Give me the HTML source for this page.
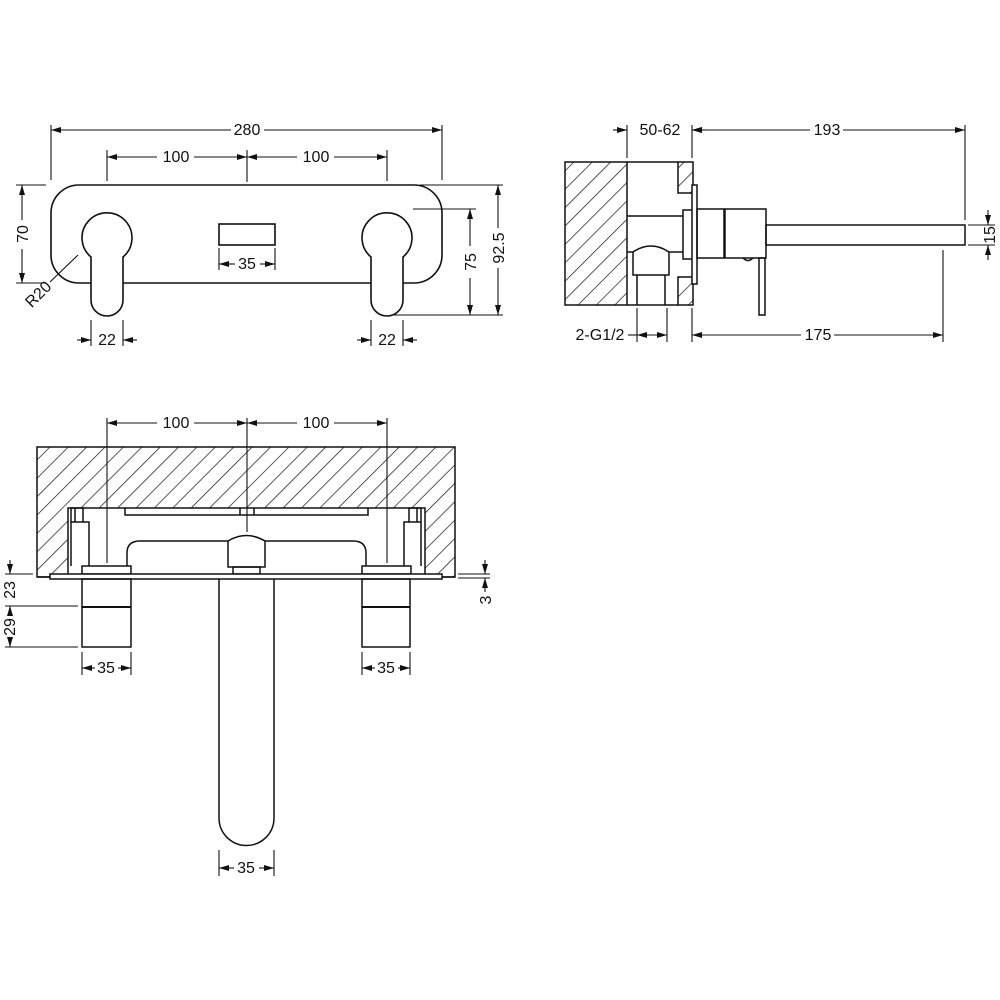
<!DOCTYPE html>
<html><head><meta charset="utf-8"><style>
html,body{margin:0;padding:0;background:#fff;}
svg{display:block}
text{font-family:"Liberation Sans",sans-serif;font-size:16px;fill:#111;}
</style></head><body>
<svg width="1000" height="1000" viewBox="0 0 1000 1000" xmlns="http://www.w3.org/2000/svg">
<defs>
<pattern id="h" patternUnits="userSpaceOnUse" width="13" height="13" patternTransform="rotate(45)">
<rect width="13" height="13" fill="#fff"/><line x1="0" y1="0" x2="0" y2="13" stroke="#111" stroke-width="1.4"/>
</pattern>
<marker id="a" viewBox="0 0 10 6" refX="10" refY="3" markerWidth="10" markerHeight="6" orient="auto-start-reverse" markerUnits="userSpaceOnUse">
<path d="M0,0 L10,3 L0,6 z" fill="#111"/></marker>
</defs>
<g fill="none" stroke="#111" stroke-width="1.6">
<rect x="51" y="185" width="391" height="98" rx="28"/>
<path d="M91,257 A25,25 0 1 1 123,257 L123,300 A16,16 0 0 1 91,300 Z" fill="#fff"/>
<path d="M371,257 A25,25 0 1 1 403,257 L403,300 A16,16 0 0 1 371,300 Z" fill="#fff"/>
<rect x="219" y="224" width="56" height="21"/>
</g>
<g fill="none" stroke="#111" stroke-width="1.1">
<line x1="51" y1="125" x2="51" y2="180"/><line x1="442" y1="125" x2="442" y2="180"/>
<line x1="107" y1="150" x2="107" y2="181"/><line x1="247" y1="150" x2="247" y2="182"/><line x1="387" y1="150" x2="387" y2="181"/>
<line x1="16" y1="185" x2="46" y2="185"/><line x1="16" y1="283" x2="46" y2="283"/>
<line x1="219" y1="248" x2="219" y2="270"/><line x1="275" y1="248" x2="275" y2="270"/>
<line x1="91" y1="320" x2="91" y2="346"/><line x1="123" y1="320" x2="123" y2="346"/>
<line x1="371" y1="320" x2="371" y2="346"/><line x1="403" y1="320" x2="403" y2="346"/>
<line x1="413" y1="209" x2="476" y2="209"/><line x1="392" y1="315" x2="503" y2="315"/>
<line x1="420" y1="185" x2="503" y2="185"/>
<line x1="78" y1="255" x2="50" y2="282"/>
<line x1="51" y1="130" x2="231" y2="130" marker-start="url(#a)"/><line x1="264" y1="130" x2="442" y2="130" marker-end="url(#a)"/>
<line x1="107" y1="157" x2="157" y2="157" marker-start="url(#a)"/><line x1="194" y1="157" x2="247" y2="157" marker-end="url(#a)"/>
<line x1="247" y1="157" x2="297" y2="157" marker-start="url(#a)"/><line x1="334" y1="157" x2="387" y2="157" marker-end="url(#a)"/>
<line x1="22" y1="185" x2="22" y2="220" marker-start="url(#a)"/><line x1="22" y1="249" x2="22" y2="283" marker-end="url(#a)"/>
<line x1="219" y1="264" x2="235" y2="264" marker-start="url(#a)"/><line x1="260" y1="264" x2="275" y2="264" marker-end="url(#a)"/>
<line x1="77" y1="340" x2="91" y2="340" marker-end="url(#a)"/><line x1="137" y1="340" x2="123" y2="340" marker-end="url(#a)"/>
<line x1="357" y1="340" x2="371" y2="340" marker-end="url(#a)"/><line x1="417" y1="340" x2="403" y2="340" marker-end="url(#a)"/>
<line x1="470" y1="209" x2="470" y2="246" marker-start="url(#a)"/><line x1="470" y1="278" x2="470" y2="315" marker-end="url(#a)"/>
<line x1="498" y1="185" x2="498" y2="228" marker-start="url(#a)"/><line x1="498" y1="268" x2="498" y2="315" marker-end="url(#a)"/>
</g>
<text x="247" y="135" text-anchor="middle">280</text>
<text x="176" y="162" text-anchor="middle">100</text><text x="316" y="162" text-anchor="middle">100</text>
<text x="247" y="269" text-anchor="middle">35</text>
<text x="107" y="345" text-anchor="middle">22</text><text x="387" y="345" text-anchor="middle">22</text>
<text transform="translate(28,234) rotate(-90)" text-anchor="middle">70</text>
<text transform="translate(476,262) rotate(-90)" text-anchor="middle">75</text>
<text transform="translate(504,248) rotate(-90)" text-anchor="middle">92.5</text>
<text transform="translate(42,298) rotate(-45)" text-anchor="middle">R20</text>

<g fill="none" stroke="#111" stroke-width="1.5">
<rect x="565" y="162" width="62" height="143" fill="url(#h)"/>
<path d="M678,162 L693,162 L693,193 L678,193 Z" fill="url(#h)"/>
<path d="M678,277 L693,277 L693,305 L678,305 Z" fill="url(#h)"/>
<line x1="627" y1="162" x2="678" y2="162"/><line x1="627" y1="305" x2="678" y2="305"/>
<line x1="627" y1="216" x2="683" y2="216"/>
<line x1="627" y1="252" x2="633" y2="252"/><line x1="669" y1="252" x2="683" y2="252"/>
<path d="M633,252 Q651,240 669,252 L669,275 L633,275 Z"/>
<line x1="637" y1="275" x2="637" y2="305"/><line x1="665" y1="275" x2="665" y2="305"/>
<rect x="683" y="210" width="10" height="49" fill="#fff"/>
<rect x="692" y="185" width="5" height="99" fill="#fff"/>
<rect x="697" y="209" width="27" height="49"/>
<rect x="725" y="209" width="41" height="49"/>
<rect x="766" y="225" width="199" height="20"/>
<rect x="759" y="258" width="6" height="57"/>
<path d="M743,258 Q748,263 753,258"/>
</g>
<g fill="none" stroke="#111" stroke-width="1.1">
<line x1="627" y1="125" x2="627" y2="158"/><line x1="692" y1="125" x2="692" y2="158"/>
<line x1="965" y1="125" x2="965" y2="220"/>
<line x1="968" y1="225" x2="995" y2="225"/><line x1="968" y1="245" x2="995" y2="245"/>
<line x1="943" y1="250" x2="943" y2="342"/><line x1="692" y1="308" x2="692" y2="342"/>
<line x1="637" y1="308" x2="637" y2="342"/><line x1="667" y1="308" x2="667" y2="342"/>
<line x1="613" y1="130" x2="627" y2="130" marker-end="url(#a)"/><line x1="706" y1="130" x2="692" y2="130" marker-end="url(#a)"/>
<line x1="692" y1="130" x2="810" y2="130" marker-start="url(#a)"/><line x1="843" y1="130" x2="965" y2="130" marker-end="url(#a)"/>
<line x1="988" y1="210" x2="988" y2="225" marker-end="url(#a)"/><line x1="988" y1="260" x2="988" y2="245" marker-end="url(#a)"/>
<line x1="692" y1="335" x2="801" y2="335" marker-start="url(#a)"/><line x1="834" y1="335" x2="943" y2="335" marker-end="url(#a)"/>
<line x1="628" y1="335" x2="637" y2="335"/><line x1="637" y1="335" x2="667" y2="335" marker-start="url(#a)" marker-end="url(#a)"/>
</g>
<text x="660" y="135" text-anchor="middle">50-62</text>
<text x="827" y="135" text-anchor="middle">193</text>
<text x="818" y="340" text-anchor="middle">175</text>
<text x="600" y="340" text-anchor="middle">2-G1/2</text>
<text transform="translate(995,235) rotate(-90)" text-anchor="middle">15</text>

<g fill="none" stroke="#111" stroke-width="1.5">
<rect x="37" y="447" width="418" height="130" fill="url(#h)"/>
<rect x="68" y="508" width="357" height="70" fill="#fff" stroke="none"/>
<path d="M37,577 L68,577 L68,508 L425,508 L425,577 L455,577"/>
<rect x="71" y="508" width="12" height="14"/><line x1="75" y1="508" x2="75" y2="522"/>
<rect x="409" y="508" width="12" height="14"/><line x1="417" y1="508" x2="417" y2="522"/>
<path d="M71,522 L71,566"/><path d="M83,522 L89,522 L89,566"/>
<path d="M421,522 L421,566"/><path d="M409,522 L404,522 L404,566"/>
<path d="M125,508 L125,515 L368,515 L368,508"/>
<line x1="240" y1="508" x2="240" y2="515"/><line x1="254" y1="508" x2="254" y2="515"/>
<path d="M127,566 L127,553 Q127,541 140,541 L228,541"/>
<path d="M366,566 L366,553 Q366,541 353,541 L265,541"/>
<path d="M228,541 Q246,530 265,541 L265,567 L228,567 Z" fill="#fff"/>
<rect x="233" y="567" width="27" height="7"/>
<rect x="82" y="566" width="49" height="8" fill="#fff"/>
<rect x="362" y="566" width="49" height="8" fill="#fff"/>
<rect x="50" y="574" width="392" height="5" fill="#fff"/>
<rect x="82" y="579" width="49" height="68"/><line x1="82" y1="607" x2="131" y2="607" stroke-width="2"/>
<rect x="362" y="579" width="48" height="68"/><line x1="362" y1="607" x2="410" y2="607" stroke-width="2"/>
<path d="M219,579 L219,818 A27.5,27.5 0 0 0 274,818 L274,579"/>
</g>
<g fill="none" stroke="#111" stroke-width="1.1">
<line x1="107" y1="418" x2="107" y2="563"/><line x1="247" y1="418" x2="247" y2="532"/><line x1="387" y1="418" x2="387" y2="563"/>
<line x1="107" y1="423" x2="157" y2="423" marker-start="url(#a)"/><line x1="194" y1="423" x2="247" y2="423" marker-end="url(#a)"/>
<line x1="247" y1="423" x2="297" y2="423" marker-start="url(#a)"/><line x1="334" y1="423" x2="387" y2="423" marker-end="url(#a)"/>
<line x1="5" y1="574" x2="33" y2="574"/><line x1="5" y1="606" x2="78" y2="606"/><line x1="5" y1="647" x2="78" y2="647"/>
<line x1="10" y1="560" x2="10" y2="574" marker-end="url(#a)"/>
<line x1="10" y1="606" x2="10" y2="614" marker-start="url(#a)"/><line x1="10" y1="638" x2="10" y2="647" marker-end="url(#a)"/>
<line x1="458" y1="574" x2="490" y2="574"/><line x1="458" y1="578" x2="490" y2="578"/>
<line x1="485" y1="560" x2="485" y2="574" marker-end="url(#a)"/><line x1="485" y1="592" x2="485" y2="578" marker-end="url(#a)"/>
<line x1="82" y1="652" x2="82" y2="675"/><line x1="131" y1="652" x2="131" y2="675"/>
<line x1="362" y1="652" x2="362" y2="675"/><line x1="410" y1="652" x2="410" y2="675"/>
<line x1="82" y1="668" x2="95" y2="668" marker-start="url(#a)"/><line x1="118" y1="668" x2="131" y2="668" marker-end="url(#a)"/>
<line x1="362" y1="668" x2="375" y2="668" marker-start="url(#a)"/><line x1="398" y1="668" x2="410" y2="668" marker-end="url(#a)"/>
<line x1="219" y1="850" x2="219" y2="876"/><line x1="274" y1="850" x2="274" y2="876"/>
<line x1="219" y1="868" x2="234" y2="868" marker-start="url(#a)"/><line x1="259" y1="868" x2="274" y2="868" marker-end="url(#a)"/>
</g>
<text x="176" y="428" text-anchor="middle">100</text><text x="316" y="428" text-anchor="middle">100</text>
<text transform="translate(15,590) rotate(-90)" text-anchor="middle">23</text>
<text transform="translate(15,627) rotate(-90)" text-anchor="middle">29</text>
<text transform="translate(491,600) rotate(-90)" text-anchor="middle">3</text>
<text x="106" y="673" text-anchor="middle">35</text><text x="386" y="673" text-anchor="middle">35</text>
<text x="246" y="873" text-anchor="middle">35</text>
</svg>
</body></html>
